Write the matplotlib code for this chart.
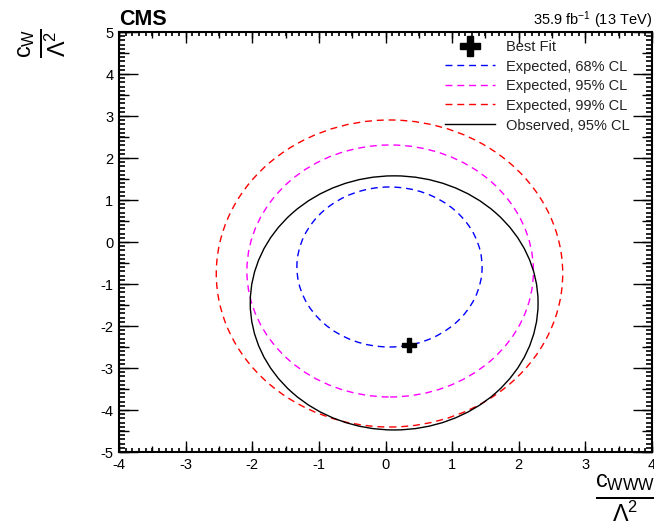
import matplotlib
matplotlib.use("Agg")
import matplotlib.pyplot as plt
from matplotlib.patches import Ellipse
from matplotlib.lines import Line2D
from matplotlib.ticker import MultipleLocator, FixedLocator, NullFormatter

plt.rcParams['font.family'] = ['Liberation Sans', 'DejaVu Sans']
plt.rcParams['mathtext.fontset'] = 'custom'
plt.rcParams['mathtext.rm'] = 'Liberation Sans'
plt.rcParams['mathtext.it'] = 'Liberation Sans'
plt.rcParams['mathtext.bf'] = 'Liberation Sans:bold'
plt.rcParams['axes.unicode_minus'] = False

# ---- data ----
contour_labels = ["Expected, 68% CL", "Expected, 95% CL", "Expected, 99% CL", "Observed, 95% CL"]
contour_colors = ["#0000ff", "#ff00ff", "#ff0000", "#000000"]
contour_styles = ["dashed", "dashed", "dashed", "solid"]
center_x = [0.06, 0.07, 0.06, 0.13]
center_y = [-0.595, -0.69, -0.75, -1.45]
width_x = [2.78, 4.30, 5.20, 4.32]
height_y = [3.81, 6.00, 7.31, 6.05]
best_fit_x = [0.35]
best_fit_y = [-2.45]
x_range = [-4, 4]
y_range = [-5, 5]

W, H = 654, 525
fig = plt.figure(figsize=(W / 100, H / 100), dpi=100)
ax = fig.add_axes([119 / W, 73 / H, 533 / W, 420 / H])
ax.set_xlim(*x_range)
ax.set_ylim(*y_range)

for cx, cy, w, h, col, ls in zip(center_x, center_y, width_x, height_y, contour_colors, contour_styles):
    e = Ellipse((cx, cy), w, h, fill=False, edgecolor=col, lw=1.0,
                linestyle=(0, (5, 3.5)) if ls == "dashed" else "-")
    ax.add_patch(e)

ax.plot(best_fit_x, best_fit_y, marker='P', color='black', markersize=10, linestyle='none')

# ticks: major at integers, minor (short) at 0.1
xfine = [x_range[0] + 0.1 * i for i in range(int(round((x_range[1] - x_range[0]) / 0.1)) + 1)]
yfine = [y_range[0] + 0.1 * i for i in range(int(round((y_range[1] - y_range[0]) / 0.1)) + 1)]
ax.xaxis.set_major_locator(MultipleLocator(1))
ax.yaxis.set_major_locator(MultipleLocator(1))
ax.xaxis.set_minor_locator(FixedLocator(xfine))
ax.yaxis.set_minor_locator(FixedLocator(yfine))
ax.tick_params(axis='x', which='major', direction='in', length=7.9, width=1.0, top=True, labelsize=10.5, pad=4)
ax.tick_params(axis='x', which='minor', direction='in', length=3.0, width=1.2, top=True, bottom=True, color='black')
ax.tick_params(axis='y', which='major', direction='in', length=13.7, width=1.0, right=True, labelsize=10.5, pad=4)
ax.tick_params(axis='y', which='minor', direction='in', length=4.0, width=1.2, right=True, left=True, color='black')
for sp in ax.spines.values():
    sp.set_linewidth(1.5)

# secondary axes carrying the medium (half-unit) ticks
for loc in ['bottom', 'top']:
    sec = ax.secondary_xaxis(loc)
    sec.xaxis.set_major_locator(MultipleLocator(0.5))
    sec.xaxis.set_major_formatter(NullFormatter())
    sec.tick_params(axis='x', direction='in', length=4.5, width=1.0)
    sec.spines[loc].set_visible(False)
for loc in ['left', 'right']:
    sec = ax.secondary_yaxis(loc)
    sec.yaxis.set_major_locator(MultipleLocator(0.5))
    sec.yaxis.set_major_formatter(NullFormatter())
    sec.tick_params(axis='y', direction='in', length=7.2, width=1.0)
    sec.spines[loc].set_visible(False)

# labels
fig.text(119 / W, 1 - 25 / H, "CMS", fontsize=15.5, fontweight='bold', ha='left', va='baseline')
fig.text(652 / W, 1 - 25 / H, r"35.9 fb$^{-1}$ (13 TeV)", fontsize=10.5, ha='right', va='baseline')
fig.text(595 / W, 1 - 498 / H, r"$\frac{c_{WWW}}{\Lambda^2}$", fontsize=24, ha='left', va='center')
fig.text(42 / W, 1 - 28 / H, r"$\frac{c_{W}}{\Lambda^2}$", fontsize=24, ha='center', va='top', rotation=90)

# legend
handles = [Line2D([], [], marker='P', color='black', markersize=14, linestyle='none')]
for col, ls in zip(contour_colors, contour_styles):
    handles.append(Line2D([], [], color=col, lw=1.0, linestyle=(0, (5, 3.5)) if ls == "dashed" else "-"))
leg = ax.legend(handles, ["Best Fit"] + contour_labels, loc='upper left',
                bbox_to_anchor=(445 / W, 1 - 40 / H), bbox_transform=fig.transFigure,
                frameon=False, fontsize=10.5, handlelength=3.4, handletextpad=0.75,
                labelspacing=0.38, borderpad=0, borderaxespad=0, handleheight=0.9)
for t in leg.get_texts():
    t.set_color('#222222')

fig.savefig("out.png", dpi=100)
